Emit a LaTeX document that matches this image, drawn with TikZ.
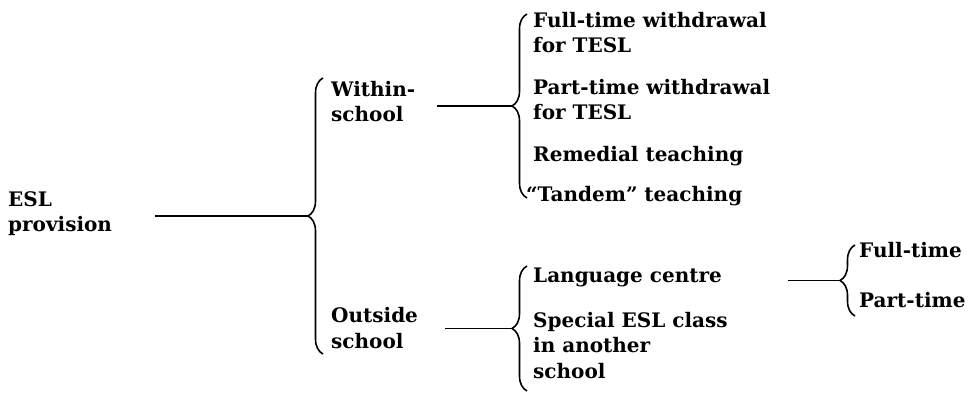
\documentclass[tikz,border=0pt]{standalone}
\usepackage{fontspec}
\setmainfont{DejaVu Serif}
\usetikzlibrary{decorations.pathreplacing}

\tikzset{
  item/.style={anchor=base west,inner sep=0pt,align=left,
    font=\fontsize{20}{25.5}\selectfont\bfseries},
  curly/.style={decorate,decoration={brace,amplitude=15pt},line width=1.6pt},
  link/.style={line width=1.2pt}
}

\begin{document}
\begin{tikzpicture}[x=1pt,y=-1pt]
\path[use as bounding box] (0,0) rectangle (978,393);
% texts (base = last line)
\node[item] (esl) at (8,232) {ESL\\provision};
\node[item] (within) at (331,122) {Within-\\school};
\node[item] (outside) at (331,348) {Outside\\school};
\node[item] (fullw) at (533,53) {Full-time withdrawal\\for TESL};
\node[item] (partw) at (533,120) {Part-time withdrawal\\for TESL};
\node[item] (remedial) at (533,162) {Remedial teaching};
\node[item] (tandem) at (526,202) {``Tandem'' teaching};
\node[item] (centre) at (533,282) {Language centre};
\node[item] (special) at (533,378) {Special ESL class\\in another\\school};
\node[item] (fulltime) at (859,258) {Full-time};
\node[item] (parttime) at (859,307) {Part-time};
% braces
\draw[curly] (323,354) -- (323,78);
\draw[curly] (527,198) -- (527,14);
\draw[curly] (527,391) -- (527,266);
\draw[curly] (855,316) -- (855,245);
\coordinate (tip1) at (308,216);
\coordinate (tip2) at (512,106);
\coordinate (tip3) at (512,328.5);
\coordinate (tip4) at (840,280.5);
% connectors
\draw[link,shorten <=43pt] (esl.east |- tip1) -- (tip1);
\draw[link,shorten <=22pt] (within.east |- tip2) -- (tip2);
\draw[link,shorten <=27pt] (outside.east |- tip3) -- (tip3);
\draw[link,shorten <=66pt] (centre.east |- tip4) -- (tip4);
\end{tikzpicture}
\end{document}
